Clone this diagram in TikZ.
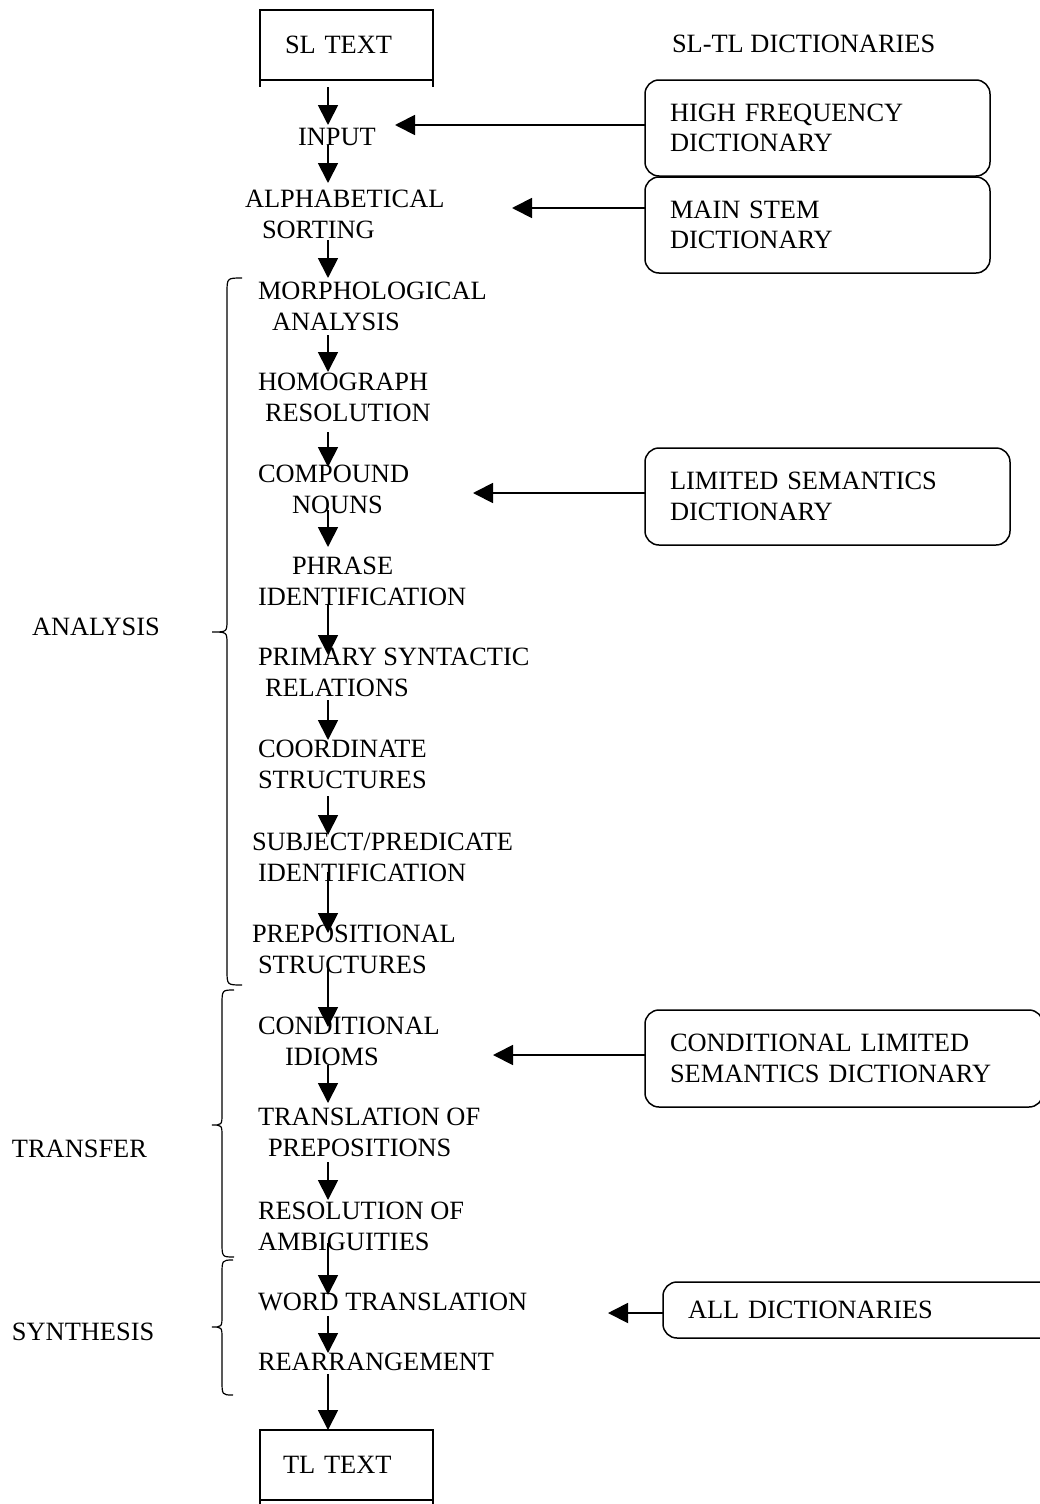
\documentclass[tikz,border=0pt]{standalone}
\usepackage{fontspec}
\setmainfont{Liberation Serif}
\usetikzlibrary{arrows.meta}

% left curly brace: end x, stem x, tip x, top y, middle y, bottom y
\newcommand{\sidebrace}[6]{%
  \draw[brace] (#1,#4) .. controls (#2,#4) .. (#2,#4+15)
    -- (#2,#5-12) .. controls (#2,#5) .. (#3,#5)
    .. controls (#2,#5) .. (#2,#5+12)
    -- (#2,#6-15) .. controls (#2,#6) .. (#1,#6);}

\begin{document}
\begin{tikzpicture}[x=1pt,y=-1pt,
  every node/.style={inner sep=0pt, outer sep=0pt,
    font=\fontsize{26.4}{30.7}\selectfont},
  stage/.style={anchor=north west, align=left},
  label/.style={anchor=north west},
  flow/.style={line width=1.8pt, -{Triangle[length=20pt,width=20pt]}},
  lead/.style 2 args={shorten <=#1, shorten >=#2},
  textbox/.style={draw, line width=1.5pt, anchor=north west,
    minimum height=70pt, align=left},
  dict/.style={draw, line width=1.5pt, rounded corners=14pt,
    anchor=north west, align=left, inner xsep=25pt, inner ysep=0pt},
  brace/.style={line width=1.2pt}
]
\useasboundingbox (0,0) rectangle (1040,1504);
\clip (0,0) rectangle (1040,1504);

% source and target texts
\node[textbox, inner xsep=25pt, text width=123pt] (sl) at (260,10) {SL TEXT};
\node[textbox, inner xsep=23pt, text width=127pt] (tl) at (260,1430) {TL TEXT};
\draw[line width=1.5pt] (sl.south west) -- ++(0,7) (sl.south east) -- ++(0,7);
\draw[line width=1.5pt] (tl.south west) -- ++(0,7) (tl.south east) -- ++(0,7);

% processing stages
\node[stage] (input)   at (298,128)  {INPUT};
\node[stage] (alpha)   at (245,190)  {ALPHABETICAL\\\hspace*{17pt}SORTING};
\node[stage] (morph)   at (258,282)  {MORPHOLOGICAL\\\hspace*{14pt}ANALYSIS};
\node[stage] (homo)    at (258,373)  {HOMOGRAPH\\\hspace*{7pt}RESOLUTION};
\node[stage] (comp)    at (258,465)  {COMPOUND\\\hspace*{34pt}NOUNS};
\node[stage] (phrase)  at (258,557)  {\hspace*{34pt}PHRASE\\IDENTIFICATION};
\node[stage] (primary) at (258,648)  {PRIMARY SYNTACTIC\\\hspace*{7pt}RELATIONS};
\node[stage] (coord)   at (258,740)  {COORDINATE\\STRUCTURES};
\node[stage] (subj)    at (252,833)  {SUBJECT/PREDICATE\\\hspace*{6pt}IDENTIFICATION};
\node[stage] (prep)    at (252,925)  {PREPOSITIONAL\\\hspace*{6pt}STRUCTURES};
\node[stage] (cond)    at (258,1017) {CONDITIONAL\\\hspace*{27pt}IDIOMS};
\node[stage] (trans)   at (258,1108) {TRANSLATION OF\\\hspace*{10pt}PREPOSITIONS};
\node[stage] (resol)   at (258,1202) {RESOLUTION OF\\AMBIGUITIES};
\node[stage] (word)    at (258,1293) {WORD TRANSLATION};
\node[stage] (rearr)   at (258,1353) {REARRANGEMENT};

% phase labels
\node[label] (dicts)     at (672,35)   {SL-TL DICTIONARIES};
\node[label] (analysis)  at (32,618)   {ANALYSIS};
\node[label] (transfer)  at (12,1140)  {TRANSFER};
\node[label] (synthesis) at (12,1323)  {SYNTHESIS};

% phase braces
\sidebrace{242}{227}{212}{278}{632}{985}
\sidebrace{234}{222}{212}{990}{1125}{1257}
\sidebrace{233}{222}{212}{1260}{1327}{1395}

% dictionaries
\node[dict, minimum width=345pt, minimum height=96pt, text width=295pt] (hf) at (645,80)
  {HIGH FREQUENCY\\DICTIONARY};
\node[dict, minimum width=345pt, minimum height=96pt, text width=295pt] (ms) at (645,177)
  {MAIN STEM\\DICTIONARY};
\node[dict, minimum width=365pt, minimum height=97pt, text width=315pt] (ls) at (645,448)
  {LIMITED SEMANTICS\\DICTIONARY};
\node[dict, minimum width=398pt, minimum height=97pt, text width=348pt] (cl) at (645,1010)
  {CONDITIONAL LIMITED\\SEMANTICS DICTIONARY};
\node[dict, minimum width=440pt, minimum height=56pt, text width=390pt] (all) at (663,1282)
  {ALL DICTIONARIES};

% main flow column
\coordinate (col) at (328,0);
\draw[flow, lead={7pt}{3pt}]    (sl.south -| col)      -- (input.north -| col);
\draw[flow, lead={-1pt}{7pt}]   (input.south -| col)   -- (alpha.north -| col);
\draw[flow, lead={2pt}{4pt}]    (alpha.south -| col)   -- (morph.north -| col);
\draw[flow, lead={5pt}{1pt}]    (morph.south -| col)   -- (homo.north -| col);
\draw[flow, lead={11pt}{-2pt}]  (homo.south -| col)    -- (comp.north -| col);
\draw[flow, lead={-3pt}{10pt}]  (comp.south -| col)    -- (phrase.north -| col);
\draw[flow, lead={-1pt}{-7pt}]  (phrase.south -| col)  -- (primary.north -| col);
\draw[flow, lead={4pt}{0pt}]    (primary.south -| col) -- (coord.north -| col);
\draw[flow, lead={8pt}{-2pt}]   (coord.south -| col)   -- (subj.north -| col);
\draw[flow, lead={-9pt}{-8pt}]  (subj.south -| col)    -- (prep.north -| col);
\draw[flow, lead={-8pt}{-10pt}] (prep.south -| col)    -- (cond.north -| col);
\draw[flow, lead={0pt}{5pt}]    (cond.south -| col)    -- (trans.north -| col);
\draw[flow, lead={6pt}{2pt}]    (trans.south -| col)   -- (resol.north -| col);
\draw[flow, lead={-7pt}{-2pt}]  (resol.south -| col)   -- (word.north -| col);
\draw[flow, lead={5pt}{0pt}]    (word.south -| col)    -- (rearr.north -| col);
\draw[flow, lead={3pt}{0pt}]    (rearr.south -| col)   -- (tl.north -| col);

% dictionary look-ups
\coordinate (hfin) at (395,125);
\coordinate (msin) at (512,208);
\coordinate (lsin) at (473,493);
\coordinate (clin) at (493,1055);
\coordinate (allin) at (608,1313);
\draw[flow] (hf.west |- hfin) -- (hfin);
\draw[flow] (ms.west |- msin) -- (msin);
\draw[flow] (ls.west |- lsin) -- (lsin);
\draw[flow] (cl.west |- clin) -- (clin);
\draw[flow] (all.west |- allin) -- (allin);
\end{tikzpicture}
\end{document}
